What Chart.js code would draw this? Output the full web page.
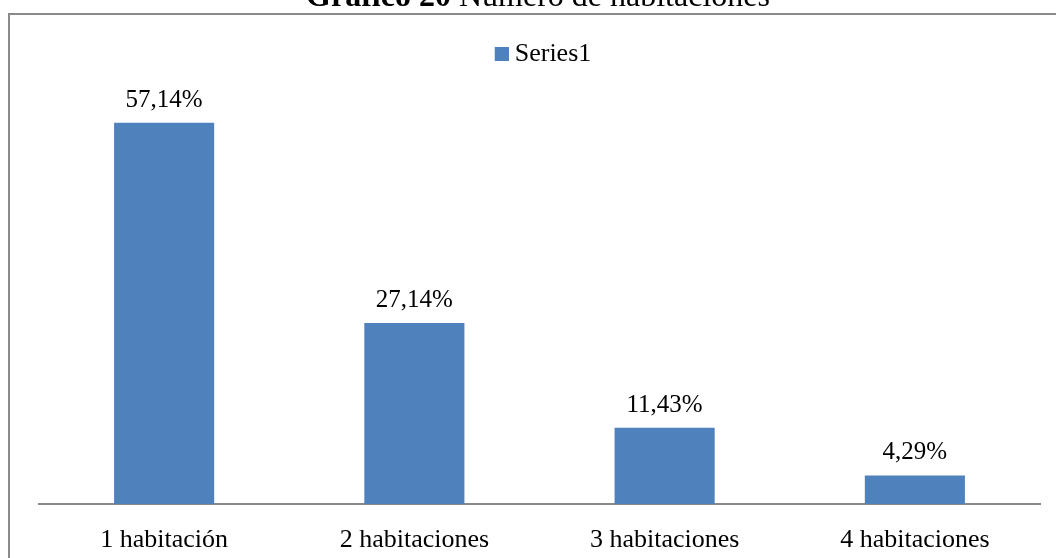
<!DOCTYPE html>
<html><head><meta charset="utf-8">
<script src="https://cdn.jsdelivr.net/npm/chart.js@4/dist/chart.umd.min.js"></script>
<style>html,body{margin:0;padding:0;background:#fff;}#wrap{width:1056px;height:558px;position:relative;}</style>
</head><body><div id="wrap"><canvas id="c" width="1056" height="558"></canvas></div>
<script>
const categories = ["1 habitación", "2 habitaciones", "3 habitaciones", "4 habitaciones"];
const values = [57.14, 27.14, 11.43, 4.29];
const valueLabels = ["57,14%", "27,14%", "11,43%", "4,29%"];
const seriesName = "Series1";
const titleBold = "Gráfico 20";
const titleRest = " Número de habitaciones";

const FONT = "'Liberation Serif', 'Times New Roman', serif";
const BAR_COLOR = '#4f81bd';

// legend marker: square drawn in the right half of a wider transparent canvas
const marker = document.createElement('canvas');
marker.width = 28; marker.height = 14;
(function(){ const m = marker.getContext('2d'); m.fillStyle = BAR_COLOR; m.fillRect(14, 0, 14, 14); })();

const framePlugin = {
  id: 'frame',
  beforeDraw(chart) {
    const ctx = chart.ctx;
    ctx.save();
    ctx.strokeStyle = '#8a8a8a';
    ctx.lineWidth = 2;
    ctx.beginPath();
    ctx.moveTo(9, 600);
    ctx.lineTo(9, 14);
    ctx.lineTo(1100, 14);
    ctx.stroke();
    // title
    ctx.fillStyle = '#000';
    ctx.textBaseline = 'alphabetic';
    ctx.font = 'bold 32px ' + FONT;
    const w1 = ctx.measureText(titleBold).width;
    ctx.font = '32px ' + FONT;
    const w2 = ctx.measureText(titleRest).width;
    const x0 = 538 - (w1 + w2) / 2;
    ctx.font = 'bold 32px ' + FONT;
    ctx.fillText(titleBold, x0, 6);
    ctx.font = '32px ' + FONT;
    ctx.fillText(titleRest, x0 + w1, 6);
    ctx.restore();
  }
};

const labelPlugin = {
  id: 'vlabels',
  afterDatasetsDraw(chart) {
    const ctx = chart.ctx;
    const meta = chart.getDatasetMeta(0);
    ctx.save();
    ctx.fillStyle = '#000';
    ctx.font = '25px ' + FONT;
    ctx.textAlign = 'center';
    ctx.textBaseline = 'alphabetic';
    meta.data.forEach((bar, i) => {
      ctx.fillText(valueLabels[i], bar.x, bar.y - 16);
    });
    ctx.restore();
  }
};

new Chart(document.getElementById('c'), {
  type: 'bar',
  data: {
    labels: categories,
    datasets: [{
      label: seriesName,
      data: values,
      backgroundColor: BAR_COLOR,
      borderWidth: 0,
      pointStyle: marker,
      barPercentage: 0.4,
      categoryPercentage: 1.0
    }]
  },
  options: {
    responsive: false,
    animation: false,
    layout: { padding: { left: 39, right: 16, top: 33, bottom: 0 } },
    plugins: {
      title: { display: false },
      tooltip: { enabled: false },
      legend: {
        display: true,
        position: 'top',
        labels: {
          usePointStyle: true,
          boxWidth: 14, boxHeight: 14, padding: 8,
          color: '#000',
          font: { family: FONT, size: 26 }
        }
      }
    },
    scales: {
      x: {
        grid: { display: false, drawTicks: false },
        border: { display: true, color: '#8a8a8a', width: 2 },
        ticks: { color: '#000', font: { family: FONT, size: 26 }, padding: 21, maxRotation: 0 },
        afterFit(scale) { scale.height = 54; }
      },
      y: {
        display: false,
        min: 0,
        max: 64
      }
    }
  },
  plugins: [framePlugin, labelPlugin]
});
</script></body></html>
